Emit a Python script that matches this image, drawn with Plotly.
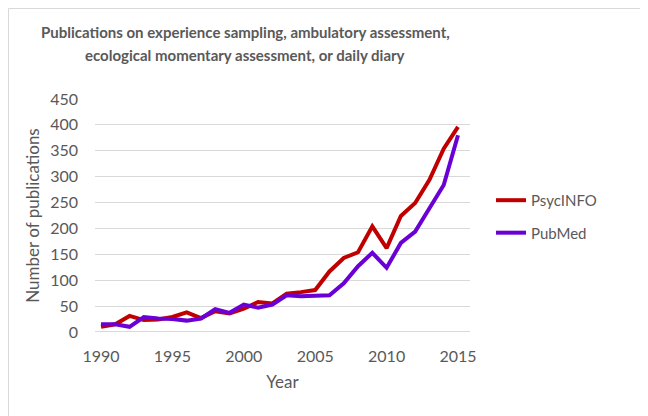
import plotly.graph_objects as go

years = list(range(1990, 2016))
psycinfo = [10, 15, 31, 23, 24, 29, 38, 27, 40, 36, 45, 58, 55, 74,
            77, 81, 117, 143, 154, 204, 162, 224, 249, 294, 354, 396]
pubmed = [15, 15, 10, 29, 26, 25, 22, 26, 44, 37, 53, 47, 53, 71,
          69, 70, 71, 94, 127, 153, 124, 172, 194, 239, 284, 380]
x_ticks = [1990, 1995, 2000, 2005, 2010, 2015]
y_ticks = list(range(0, 451, 50))
title_lines = ["Publications on experience sampling, ambulatory assessment,",
               "ecological momentary assessment, or daily diary"]

font_family = "Lato, 'Open Sans', sans-serif"
grey = "#595959"

# the page body adds an 8px offset; figure sized to fit the 648x416 window
W, H = 640, 408
L, R, T, B = 87, 178, 91, 84
pw, ph = W - L - R, H - T - B

fig = go.Figure()
fig.add_trace(go.Scatter(x=years, y=psycinfo, mode="lines", name="PsycINFO",
                         legendgroup="a",
                         line=dict(color="#C00000", width=4)))
fig.add_trace(go.Scatter(x=years, y=pubmed, mode="lines", name="PubMed",
                         legendgroup="b",
                         line=dict(color="#6A00D5", width=4)))

annotations = []
for i, (line, ypix) in enumerate(zip(title_lines, [24, 47])):
    annotations.append(dict(text="<b>" + line + "</b>", xref="paper", yref="paper",
                            x=(237 - L) / pw, y=(H - B - ypix) / ph,
                            xanchor="center", yanchor="middle", showarrow=False,
                            font=dict(size=15, color=grey, family=font_family)))

fig.update_layout(
    width=W, height=H,
    margin=dict(l=L, r=R, t=T, b=B),
    paper_bgcolor="white", plot_bgcolor="white",
    font=dict(family=font_family, color=grey, size=15),
    annotations=annotations,
    showlegend=True,
    legend=dict(x=1.056, y=0.496, xanchor="left", yanchor="middle",
                font=dict(size=15, color=grey), bgcolor="rgba(0,0,0,0)",
                tracegroupgap=10),
    xaxis=dict(range=[1989.58, 2015.84], tickvals=x_ticks, showgrid=False,
               zeroline=False, showline=False, ticks="", ticklabelstandoff=13,
               title=dict(text="Year", font=dict(size=17, color=grey), standoff=12),
               tickfont=dict(size=16, color=grey)),
    yaxis=dict(range=[0, 450], tickvals=y_ticks, showgrid=True,
               gridcolor="#D9D9D9", gridwidth=1, zeroline=False,
               showline=False, ticks="", ticklabelstandoff=16,
               title=dict(text="Number of publications", font=dict(size=17, color=grey), standoff=6),
               tickfont=dict(size=16, color=grey)),
    shapes=[
        dict(type="line", xref="paper", yref="y", x0=0, x1=1, y0=0, y1=0,
             line=dict(color="#D9D9D9", width=2), layer="below"),
        dict(type="line", xref="paper", yref="paper",
             x0=(0.5 - L) / pw, x1=(0.5 - L) / pw, y0=-B / ph, y1=(H - 0.5 - B) / ph,
             line=dict(color="#D9D9D9", width=1)),
        dict(type="line", xref="paper", yref="paper",
             x0=(0.5 - L) / pw, x1=(W - L) / pw, y0=(H - 0.5 - B) / ph, y1=(H - 0.5 - B) / ph,
             line=dict(color="#D9D9D9", width=1)),
    ],
)

fig.write_html("out.html")
